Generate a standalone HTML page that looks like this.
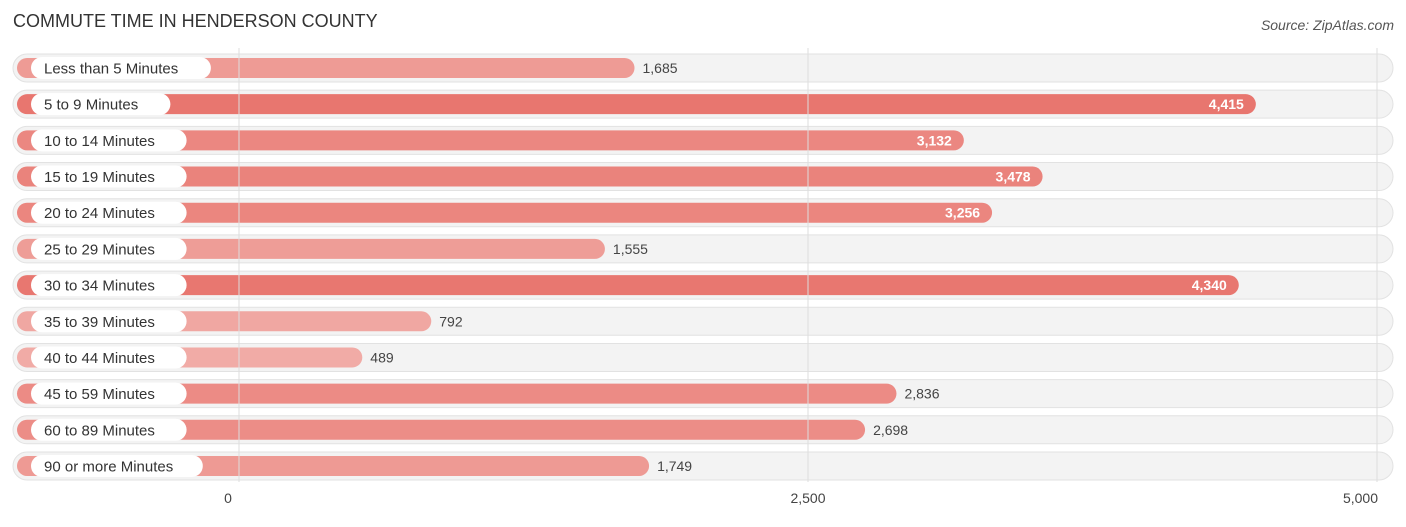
<!DOCTYPE html>
<html><head><meta charset="utf-8"><style>
body{margin:0;background:#fff;font-family:"Liberation Sans",sans-serif;}
svg text{font-family:"Liberation Sans",sans-serif;}
</style></head><body>
<svg id="c" width="1406" height="522">
<text x="13" y="27" font-size="18" fill="#333">COMMUTE TIME IN HENDERSON COUNTY</text>
<text x="1394" y="30" font-size="14" fill="#555" font-style="italic" text-anchor="end">Source: ZipAtlas.com</text>
<g id="rows"></g>
<g id="axis"></g>
</svg>
<script>
const categories=["Less than 5 Minutes","5 to 9 Minutes","10 to 14 Minutes","15 to 19 Minutes","20 to 24 Minutes","25 to 29 Minutes","30 to 34 Minutes","35 to 39 Minutes","40 to 44 Minutes","45 to 59 Minutes","60 to 89 Minutes","90 or more Minutes"];
const values=[1685,4415,3132,3478,3256,1555,4340,792,489,2836,2698,1749];
const ticks=[0,2500,5000];
const tickLabels=["0","2,500","5,000"];
const NS="http://www.w3.org/2000/svg";
const x=v=>239+v*0.2276;
const y=i=>68+i*36.18;
const maxV=Math.max(...values);
function mk(t,a,p){const e=document.createElementNS(NS,t);for(const k in a)e.setAttribute(k,a[k]);p.appendChild(e);return e;}
const rows=document.getElementById('rows'),axis=document.getElementById('axis');
categories.forEach((c,i)=>{
 const cy=y(i);
 const bg=mk('rect',{x:13,y:cy-14,width:1380,height:28,rx:14,fill:'#f3f3f3',stroke:'#e2e2e2'},rows);
 
 
});
ticks.forEach((t,k)=>{
 const l=mk('line',{x1:x(t),x2:x(t),y1:48,y2:482,stroke:'#ddd'},axis);
 
 
 const tx=mk('text',{x:x(t)-(k==0?11:k==2?-1:0),y:503,'font-size':14,fill:'#444','text-anchor':k==2?'end':'middle'},axis);
 tx.textContent=tickLabels[k];
 
 
});
categories.forEach((c,i)=>{
 const cy=y(i),v=values[i],f=v/maxV;
 const r=Math.round(242-(242-232)*f),g=Math.round(178-(178-118)*f),b=Math.round(173-(173-111)*f);
 const end=x(v)+12;
 const bar=mk('rect',{x:17,y:cy-10,width:end-17,height:20,rx:10,fill:`rgb(${r},${g},${b})`},rows);
 
 
 const lw=c.length*8.1+26;
 const pill=mk('rect',{x:31,y:cy-11,width:lw,height:22,rx:11,fill:'#fff'},rows);
 
 
 const lt=mk('text',{x:44,y:cy+5.5,'font-size':15,fill:'#333'},rows);
 lt.textContent=c;
 
 
 const inside=v>3000;
 const vt=mk('text',{x:inside?end-12:end+8,y:cy+5,'font-size':14,fill:inside?'#fff':'#444','text-anchor':inside?'end':'start','font-weight':inside?'bold':'normal'},rows);
 vt.textContent=v.toLocaleString('en-US');
 
 
});
</script>
</body></html>
